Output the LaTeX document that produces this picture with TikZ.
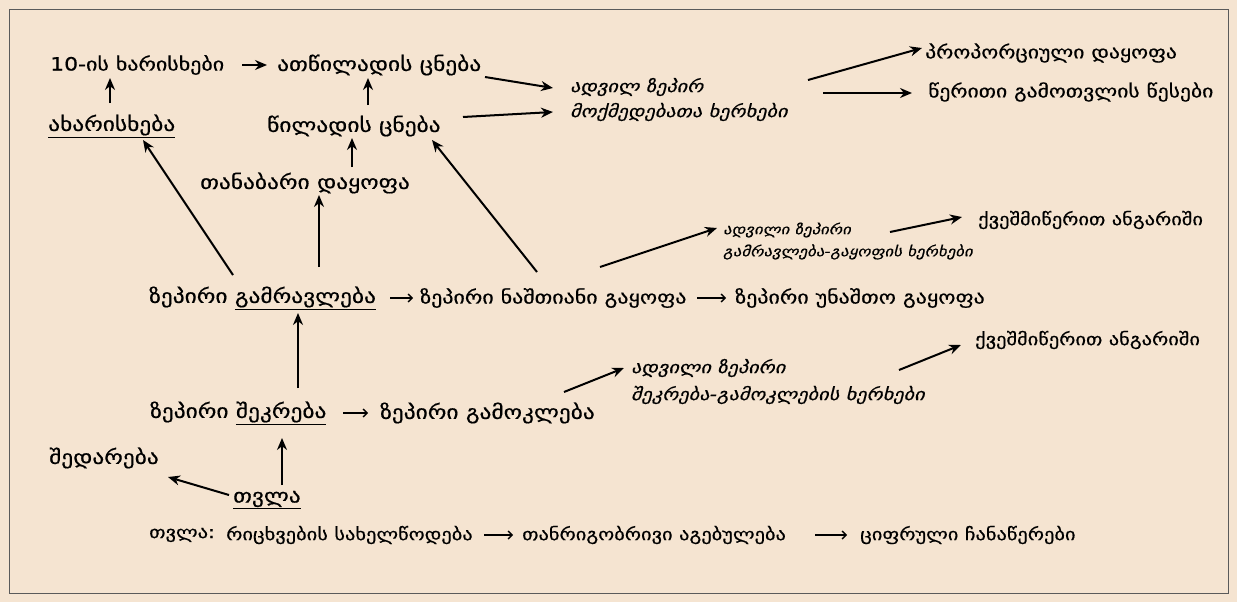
\documentclass[tikz,border=0pt]{standalone}
\usepackage{fontspec}
\setmainfont{DejaVu Sans}[FakeStretch=1.2,FakeBold=0.6]
\usetikzlibrary{arrows.meta,calc}
\definecolor{bg}{RGB}{245,228,209}
\definecolor{frame}{RGB}{90,90,90}
\tikzset{
  lbl/.style={anchor=west,inner sep=0pt,font=\fontsize{19.5}{22}\selectfont},
  lblm/.style={anchor=west,inner sep=0pt,font=\fontsize{18.3}{21}\selectfont},
  lblp/.style={anchor=west,inner sep=0pt,font=\fontsize{18}{21}\selectfont},
  lbls/.style={anchor=west,inner sep=0pt,font=\fontsize{17}{20}\selectfont},
  ilbl/.style={anchor=west,inner sep=0pt,font=\fontsize{16.9}{19}\selectfont\itshape},
  ilbls/.style={anchor=west,inner sep=0pt,font=\fontsize{14}{16}\selectfont\itshape},
  bold/.style={line width=2pt,-{Stealth[length=12pt,width=10pt]}},
  thinarr/.style={line width=1.4pt,-{Straight Barb[length=4pt,width=8pt]}},
}
\begin{document}
\begin{tikzpicture}[x=1pt,y=-1pt]
\useasboundingbox (0,0) rectangle (1237,602);
\fill[bg] (0,0) rectangle (1237,602);
\draw[frame,line width=0.8pt] (9,9) rectangle (1228,593);

% top area
\node[lblm] (n10) at (50,65) {10-ის ხარისხები};
\node[lbl] (natsil) at (277,65) {ათწილადის ცნება};
\node[lbl] (akhar) at (48,126) {\underline{ახარისხება}};
\node[lbl] (tsil) at (267,126) {წილადის ცნება};
\node[ilbl] (adv1) at (570,87) {ადვილ ზეპირ};
\node[ilbl] (adv2) at (570,112) {მოქმედებათა ხერხები};
\node[lblp] (prop) at (925,53) {პროპორციული დაყოფა};
\node[lblp] (tser) at (928,92) {წერითი გამოთვლის წესები};
\node[lbl] (tanab) at (200,183) {თანაბარი დაყოფა};

% multiplication row
\node[lbl] (gamr) at (149,298) {ზეპირი \underline{გამრავლება}};
\node[lblm] (zn) at (420,298) {ზეპირი ნაშთიანი გაყოფა};
\node[lblm] (zu) at (735,298) {ზეპირი უნაშთო გაყოფა};
\node[ilbls] (adv3) at (723,230) {ადვილი ზეპირი};
\node[ilbls] (adv4) at (723,252) {გამრავლება-გაყოფის ხერხები};
\node[lbls] (kv1) at (978,220) {ქვეშმიწერით ანგარიში};

% addition row
\node[lbl] (shek) at (150,413) {ზეპირი \underline{შეკრება}};
\node[lbl] (gamok) at (380,413) {ზეპირი გამოკლება};
\node[ilbl] (adv5) at (631,368) {ადვილი ზეპირი};
\node[ilbl] (adv6) at (631,395) {შეკრება-გამოკლების ხერხები};
\node[lbls] (kv2) at (975,340) {ქვეშმიწერით ანგარიში};

% counting
\node[lbl] (shed) at (49,458) {შედარება};
\node[lbl] (tvla) at (233,500) {\underline{თვლა}};
\node[lbls] (tv0) at (149,535) {თვლა:};
\node[lbls] (ric) at (226,535) {რიცხვების სახელწოდება};
\node[lbls] (tanr) at (522,535) {თანრიგობრივი აგებულება};
\node[lbls] (tsif) at (860,535) {ციფრული ჩანაწერები};

% connectors
\draw[bold] ($(n10.west)+(192,0)$) -- ($(natsil.west)+(-10,0)$);
\draw[bold] ($(akhar.west)+(62,-23)$) -- ($(n10.west)+(60,13)$);
\draw[bold] ($(tsil.west)+(101,-21)$) -- ($(natsil.west)+(91,13)$);
\draw[bold] ($(natsil.west)+(208,12)$) -- ($(adv1.west)+(-17,1)$);
\draw[bold] ($(tsil.west)+(196,-9)$) -- ($(adv2.west)+(-17,0)$);
\draw[bold] ($(adv2.west)+(238,-32)$) -- ($(prop.west)+(-3,-5)$);
\draw[bold] ($(adv2.west)+(253,-19)$) -- ($(tser.west)+(-16,1)$);
\draw[bold] ($(tanab.west)+(152,-16)$) -- ($(tsil.west)+(85,12)$);
\draw[bold] ($(gamr.west)+(84,-23)$) -- ($(akhar.west)+(95,14)$);
\draw[bold] ($(gamr.west)+(170,-31)$) -- ($(tanab.west)+(119,12)$);
\draw[bold] ($(zn.west)+(117,-26)$) -- ($(tsil.west)+(165,14)$);
\draw[bold] ($(zn.west)+(180,-31)$) -- ($(adv3.west)+(-6,-2)$);
\draw[bold] ($(adv3.west)+(167,2)$) -- ($(kv1.west)+(-16,-3)$);
\draw[thinarr] ($(zn.west)+(-30,0)$) -- ($(zn.west)+(-7,0)$);
\draw[thinarr] ($(zu.west)+(-38,0)$) -- ($(zu.west)+(-9,0)$);
\draw[thinarr] ($(gamok.west)+(-37,0)$) -- ($(gamok.west)+(-12,0)$);
\draw[bold] ($(shek.west)+(148,-25)$) -- ($(gamr.west)+(149,15)$);
\draw[bold] ($(gamok.west)+(184,-21)$) -- ($(adv5.west)+(-7,0)$);
\draw[bold] ($(adv5.west)+(268,2)$) -- ($(kv2.west)+(-14,5)$);
\draw[bold] ($(tvla.west)+(49,-15)$) -- ($(shek.west)+(132,25)$);
\draw[bold] ($(tvla.west)+(-4,-5)$) -- ($(shed.west)+(119,19)$);
\draw[thinarr] ($(tanr.west)+(-38,0)$) -- ($(tanr.west)+(-9,0)$);
\draw[thinarr] ($(tsif.west)+(-45,0)$) -- ($(tsif.west)+(-13,0)$);
\end{tikzpicture}
\end{document}
